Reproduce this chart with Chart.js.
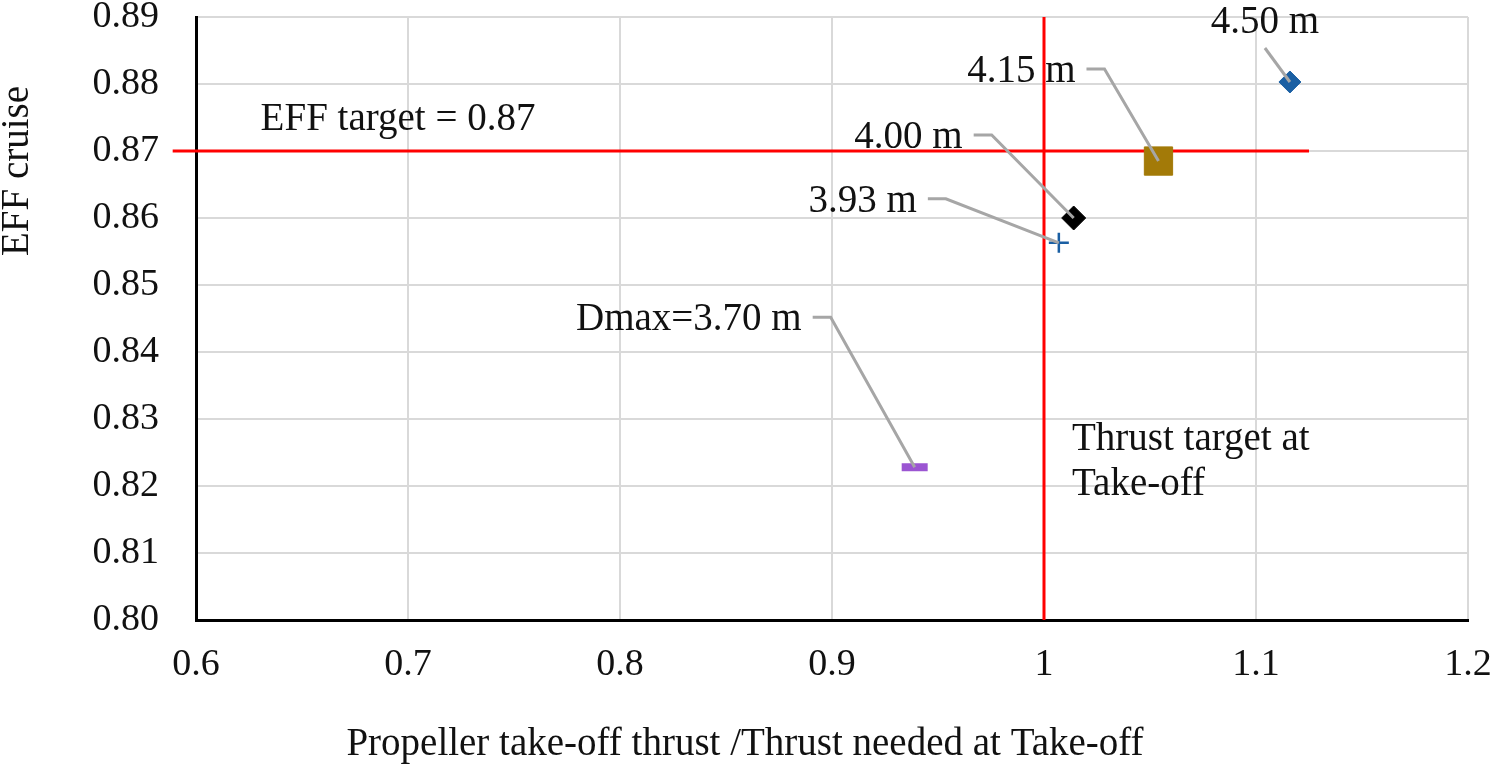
<!DOCTYPE html>
<html>
<head>
<meta charset="utf-8">
<script src="https://cdn.jsdelivr.net/npm/chart.js@4"></script>
<style>
  body { margin: 0; background: #fff; }
  #wrap { width: 1496px; height: 767px; }
</style>
</head>
<body>
<div id="wrap"><canvas id="chart" width="1496" height="767"></canvas></div>
<script>
// =====================
// Data
// =====================
const pointLabels = ["4.50 m", "4.15 m", "4.00 m", "3.93 m", "Dmax=3.70 m"];
const thrustRatio = [1.116, 1.054, 1.014, 1.007, 0.939];
const effCruise = [0.8803, 0.8685, 0.8600, 0.8563, 0.8228];

const effTarget = 0.87;
const effLineX = [0.589, 1.125];
const thrustTarget = 1.0;
const thrustLineY = [0.80, 0.89];

const xTickLabels = ["0.6", "0.7", "0.8", "0.9", "1", "1.1", "1.2"];
const yTickLabels = ["0.80", "0.81", "0.82", "0.83", "0.84", "0.85", "0.86", "0.87", "0.88", "0.89"];

// =====================
// Styles
// =====================
const FONT = "'Liberation Serif', 'Times New Roman', serif";
const TEXT = "#111";
const markerStyles = [
    { pointStyle: "rectRot", radius: 11, color: "#1a5fa3" },
    { pointStyle: "rect", radius: 20, color: "#a37a08" },
    { pointStyle: "rectRot", radius: 12, color: "#000000" },
    { pointStyle: "cross", radius: 10, color: "#1a5fa3", border: 2.5 },
    { pointStyle: "line", radius: 13, color: "#9b55d2", border: 8 }
];
// leader line start, in pixels relative to the marker
const labelOffsets = [
    { dx: -25, dy: -34, above: true },
    { dx: -72, dy: -92 },
    { dx: -100, dy: -83 },
    { dx: -131, dy: -44 },
    { dx: -102, dy: -150 }
];

const pointSets = pointLabels.map((name, i) => ({
    label: name,
    data: [{ x: thrustRatio[i], y: effCruise[i] }],
    pointStyle: markerStyles[i].pointStyle,
    pointRadius: markerStyles[i].radius,
    pointBackgroundColor: markerStyles[i].color,
    pointBorderColor: markerStyles[i].color,
    pointBorderWidth: markerStyles[i].border || 1,
    order: 0
}));

// =====================
// Labels & leader lines
// =====================
const annotations = {
    id: "annotations",
    afterDatasetsDraw(chart) {
        const ctx = chart.ctx;
        const xs = chart.scales.x, ys = chart.scales.y;
        ctx.save();
        ctx.font = "39px " + FONT;
        ctx.fillStyle = TEXT;
        pointLabels.forEach((name, i) => {
            const px = xs.getPixelForValue(thrustRatio[i]);
            const py = ys.getPixelForValue(effCruise[i]);
            const o = labelOffsets[i];
            const ax = px + o.dx, ay = py + o.dy;
            ctx.strokeStyle = "#a6a6a6";
            ctx.lineWidth = 3;
            ctx.beginPath();
            ctx.moveTo(ax, ay);
            if (!o.above) ctx.lineTo(ax + 18, ay);
            ctx.lineTo(px, py);
            ctx.stroke();
            ctx.textBaseline = "alphabetic";
            if (o.above) {
                ctx.textAlign = "center";
                ctx.fillText(name, ax, ay - 15);
            } else {
                ctx.textAlign = "right";
                ctx.fillText(name, ax - 11, ay + 13);
            }
        });

        // target texts
        ctx.textAlign = "center";
        ctx.fillText("EFF target = " + effTarget.toFixed(2), 398, 130);
        ctx.textAlign = "left";
        ctx.fillText("Thrust target at", 1072, 450);
        ctx.fillText("Take-off", 1072, 495);

        // axis titles
        ctx.textAlign = "center";
        ctx.fillText("Propeller take-off thrust /Thrust needed at Take-off", 745, 755);
        ctx.translate(28, 171);
        ctx.rotate(-Math.PI / 2);
        ctx.fillText("EFF cruise", 0, 0);
        ctx.restore();
    }
};

// =====================
// Chart
// =====================
new Chart(document.getElementById("chart"), {
    type: "scatter",
    data: {
        datasets: [
            {
                label: "EFF target",
                data: effLineX.map(x => ({ x, y: effTarget })),
                showLine: true,
                borderColor: "#ff0000",
                borderWidth: 3,
                pointRadius: 0,
                clip: false,
                order: 2
            },
            {
                label: "Thrust target",
                data: thrustLineY.map(y => ({ x: thrustTarget, y })),
                showLine: true,
                borderColor: "#ff0000",
                borderWidth: 3,
                pointRadius: 0,
                clip: false,
                order: 1
            },
            ...pointSets
        ]
    },
    options: {
        responsive: false,
        animation: false,
        layout: { autoPadding: false, padding: { top: 17, right: 28, left: 0, bottom: 0 } },
        plugins: { legend: { display: false }, tooltip: { enabled: false } },
        scales: {
            x: {
                type: "linear",
                min: 0.6,
                max: 1.2,
                ticks: {
                    stepSize: 0.1,
                    padding: 22,
                    color: TEXT,
                    font: { family: FONT, size: 38 },
                    callback: (v, i) => xTickLabels[i]
                },
                grid: { color: "#d9d9d9", lineWidth: 2, drawTicks: false },
                border: { color: "#000", width: 3 },
                afterFit: s => { s.height = 147; s.paddingLeft = 0; s.paddingRight = 0; }
            },
            y: {
                type: "linear",
                min: 0.80,
                max: 0.89,
                ticks: {
                    stepSize: 0.01,
                    padding: 37,
                    color: TEXT,
                    font: { family: FONT, size: 38, lineHeight: 0.8 },
                    callback: (v, i) => yTickLabels[i]
                },
                grid: { color: "#d9d9d9", lineWidth: 2, drawTicks: false },
                border: { color: "#000", width: 3 },
                afterFit: s => { s.width = 196; s.paddingTop = 0; s.paddingBottom = 0; }
            }
        }
    },
    plugins: [annotations]
});
</script>
</body>
</html>
